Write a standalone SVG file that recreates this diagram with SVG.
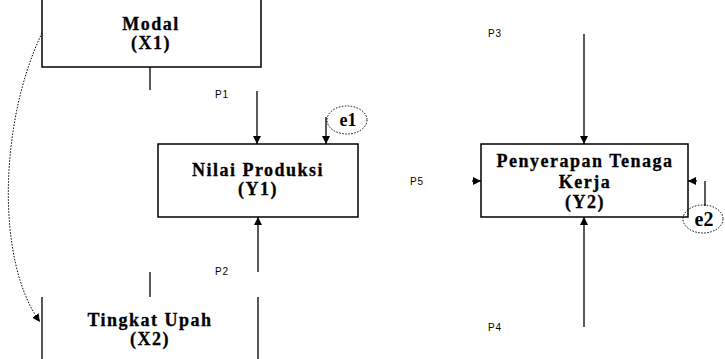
<svg xmlns="http://www.w3.org/2000/svg" width="725" height="359" viewBox="0 0 725 359">
  <style>
    .box { fill: #fff; stroke: #000; stroke-width: 1.5; }
    .edge { fill: none; stroke: #000; stroke-width: 1.3; }
    .dot { fill: none; stroke: #000; stroke-width: 1; stroke-dasharray: 1.5 1.5; }
    .node { font-family: "Liberation Serif", "Times New Roman", serif; font-weight: bold; font-size: 18px; letter-spacing: 1.5px; text-anchor: middle; fill: #000; stroke: #000; stroke-width: 0.3; }
    .err { font-family: "Liberation Serif", "Times New Roman", serif; font-weight: bold; text-anchor: middle; fill: #000; }
    .lbl { font-family: "Liberation Sans", Arial, sans-serif; font-size: 10px; letter-spacing: 0.8px; fill: #000; }
  </style>
  <defs>
    <marker id="arrow" viewBox="0 0 10 10" refX="10" refY="5" markerWidth="8" markerHeight="8" markerUnits="userSpaceOnUse" orient="auto">
      <path d="M0,0 L10,5 L0,10 Z" fill="#000"/>
    </marker>
  </defs>
  <rect width="725" height="359" fill="#fff"/>

  <g id="connectors">
    <!-- stubs between the exogenous boxes -->
    <path class="edge" d="M150,67 V90"/>
    <path class="edge" d="M150,272 V297"/>
    <!-- P1 into Nilai Produksi -->
    <path class="edge" d="M257,91 V144" marker-end="url(#arrow)"/>
    <!-- P2 into Nilai Produksi from below -->
    <path class="edge" d="M258,272 V217" marker-end="url(#arrow)"/>
    <!-- e1 into Nilai Produksi -->
    <path class="edge" d="M326,117 V144" marker-end="url(#arrow)"/>
    <!-- P3 / P4 into Penyerapan Tenaga Kerja -->
    <path class="edge" d="M584,34 V144" marker-end="url(#arrow)"/>
    <path class="edge" d="M584,327 V217" marker-end="url(#arrow)"/>
    <!-- P5 from the left -->
    <path class="edge" d="M472,181 H481" marker-end="url(#arrow)"/>
    <!-- e2 into Penyerapan Tenaga Kerja -->
    <path class="edge" d="M697,181 H688" marker-end="url(#arrow)"/>
    <path class="edge" d="M705,181 V206" stroke-width="1"/>
    <!-- correlation curve Modal -> Tingkat Upah -->
    <path class="dot" d="M42,33 C0,120 -5,260 40,322" marker-end="url(#arrow)"/>
  </g>

  <g id="modal">
    <rect class="box" x="42" y="-10" width="219" height="77"/>
    <text class="node" x="151" y="30">Modal</text>
    <text class="node" x="151" y="49">(X1)</text>
  </g>

  <g id="nilai-produksi">
    <rect class="box" x="158" y="144" width="200" height="73"/>
    <text class="node" x="258" y="176">Nilai Produksi</text>
    <text class="node" x="258" y="195">(Y1)</text>
  </g>

  <g id="tingkat-upah">
    <path class="edge" d="M42,297 V360 M258,297 V360" stroke-width="1.5"/>
    <text class="node" x="150" y="326">Tingkat Upah</text>
    <text class="node" x="150" y="345">(X2)</text>
  </g>

  <g id="penyerapan">
    <rect class="box" x="481" y="144" width="207" height="73"/>
    <text class="node" x="585" y="167">Penyerapan Tenaga</text>
    <text class="node" x="585" y="188">Kerja</text>
    <text class="node" x="585" y="208">(Y2)</text>
  </g>

  <g id="e1">
    <ellipse class="dot" cx="347" cy="120" rx="20" ry="14"/>
    <text class="err" x="348" y="126" font-size="18">e1</text>
  </g>

  <g id="e2">
    <ellipse class="dot" cx="703" cy="219" rx="20" ry="14"/>
    <text class="err" x="704" y="226" font-size="20">e2</text>
  </g>

  <g id="labels">
    <text class="lbl" x="215" y="98">P1</text>
    <text class="lbl" x="215" y="275">P2</text>
    <text class="lbl" x="488" y="37">P3</text>
    <text class="lbl" x="488" y="331">P4</text>
    <text class="lbl" x="410" y="185">P5</text>
  </g>
</svg>
